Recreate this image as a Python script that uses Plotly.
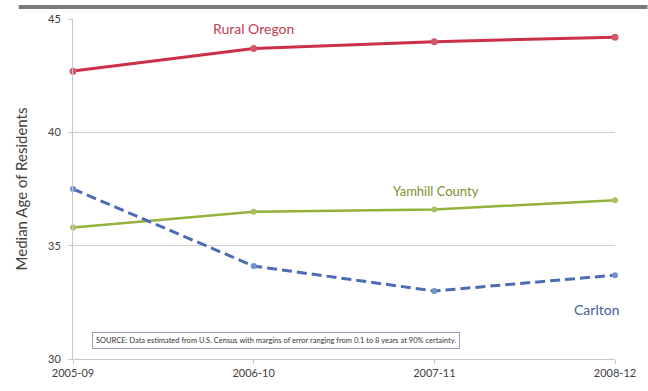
import plotly.graph_objects as go

# Survey periods (ACS 5-year estimates)
periods = ["2005-09", "2006-10", "2007-11", "2008-12"]

# Median age of residents
rural_oregon = [42.7, 43.7, 44.0, 44.2]
yamhill_county = [35.8, 36.5, 36.6, 37.0]
carlton = [37.5, 34.1, 33.0, 33.7]

y_ticks = [30, 35, 40, 45]

FONT = "Lato, 'Open Sans', sans-serif"
RED = "#cc2f48"
GREEN = "#93b13b"
BLUE = "#4a6db3"

fig = go.Figure()

fig.add_trace(go.Scatter(
    x=periods, y=rural_oregon, mode="lines+markers", name="Rural Oregon",
    line=dict(color=RED, width=3),
    marker=dict(size=7, color="#d05a6a"),
    cliponaxis=False,
))
fig.add_trace(go.Scatter(
    x=periods, y=yamhill_county, mode="lines+markers", name="Yamhill County",
    line=dict(color=GREEN, width=2.5),
    marker=dict(size=6, color="#a8c060"),
    cliponaxis=False,
))
fig.add_trace(go.Scatter(
    x=periods, y=carlton, mode="lines+markers", name="Carlton",
    line=dict(color=BLUE, width=3, dash="10px,5px"),
    marker=dict(size=6, color="#7090c8"),
    cliponaxis=False,
))

# Series labels placed next to their lines
fig.add_annotation(x=1, y=44.6, xref="x", yref="y", text="Rural Oregon",
                   showarrow=False, xanchor="center", yanchor="middle",
                   font=dict(family=FONT, size=14, color="#c0404f"))
fig.add_annotation(x=2.01, y=37.4, xref="x", yref="y", text="Yamhill County",
                   showarrow=False, xanchor="center", yanchor="middle",
                   font=dict(family=FONT, size=13, color="#7d8f2e"))
fig.add_annotation(x=2.9, y=32.2, xref="x", yref="y", text="Carlton",
                   showarrow=False, xanchor="center", yanchor="middle",
                   font=dict(family=FONT, size=14, color="#3f5f9f"))

# Source note box
fig.add_annotation(
    x=0.035, y=0.028, xref="paper", yref="paper", xanchor="left", yanchor="bottom",
    text="SOURCE: Data estimated from U.S. Census with margins of error ranging from 0.1 to 8 years at 90% certainty.",
    showarrow=False, font=dict(family=FONT, size=7.5, color="#333333"),
    bordercolor="#9aa0c0", borderwidth=1, borderpad=3, bgcolor="white",
)

# Dark rule across the top of the page
fig.add_shape(type="line", xref="paper", yref="paper",
              x0=-0.1, x1=1.06, y0=1.035, y1=1.035,
              line=dict(color="#7a7a7a", width=4))

fig.update_layout(
    width=648, height=391,
    margin=dict(l=73, r=31, t=16, b=29),
    paper_bgcolor="white", plot_bgcolor="white",
    showlegend=False,
    font=dict(family=FONT, size=11, color="#404040"),
)

fig.update_xaxes(
    type="category", range=[0, 3],
    showgrid=False, showline=True, linecolor="#c8c8c8", linewidth=1,
    ticks="outside", ticklen=4, tickcolor="#c8c8c8",
    tickfont=dict(family=FONT, size=11, color="#404040"),
    zeroline=False,
)
fig.update_yaxes(
    range=[30, 45], tickvals=y_ticks,
    showgrid=True, gridcolor="#cfcfcf", gridwidth=1,
    showline=True, linecolor="#c8c8c8", linewidth=1,
    ticks="outside", ticklen=4, tickcolor="#c8c8c8",
    ticklabelstandoff=5,
    tickfont=dict(family=FONT, size=11, color="#404040"),
    title=dict(text="Median Age of Residents", standoff=16,
               font=dict(family=FONT, size=15, color="#404040")),
    zeroline=False,
)

fig.write_html("out.html")
